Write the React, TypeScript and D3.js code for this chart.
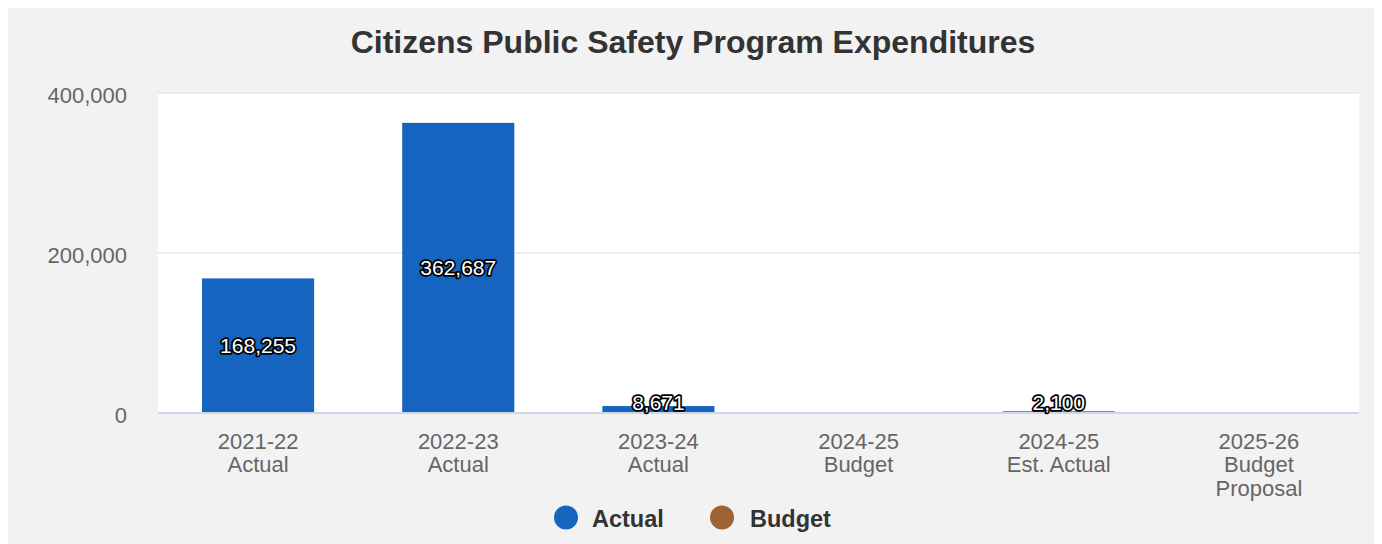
import React from "react";
import * as d3 from "d3";

const categories: string[][] = [
  ["2021-22", "Actual"],
  ["2022-23", "Actual"],
  ["2023-24", "Actual"],
  ["2024-25", "Budget"],
  ["2024-25", "Est. Actual"],
  ["2025-26", "Budget", "Proposal"],
];
const actualValues: (number | null)[] = [168255, 362687, 8671, null, 2100, null];
const budgetValues: (number | null)[] = [null, null, null, 0, null, 0];
const yTicks: number[] = [0, 200000, 400000];
const seriesNames = ["Actual", "Budget"];
const seriesColors = ["#1565c0", "#9c6434"];

const W = 1370;
const H = 536;
const plot = { left: 150, right: 1351, top: 85, bottom: 405 };
const FONT = "'Liberation Sans', Arial, Helvetica, sans-serif";

export default function App() {
  const x = d3
    .scaleBand<number>()
    .domain(categories.map((_, i) => i))
    .range([plot.left, plot.right])
    .paddingInner(0.44)
    .paddingOuter(0.22);
  const y = d3.scaleLinear().domain([0, 400000]).range([plot.bottom, plot.top]);
  const fmt = d3.format(",");

  const bars: { i: number; v: number; s: number }[] = [];
  [actualValues, budgetValues].forEach((arr, s) =>
    arr.forEach((v, i) => {
      if (v !== null) bars.push({ i, v, s });
    })
  );

  const legendItems = [
    { cx: 558, tx: 584 },
    { cx: 714, tx: 742 },
  ];

  return (
    <svg width={W} height={H} style={{ display: "block", fontFamily: FONT }}>
      <rect x={0} y={0} width={W} height={H} fill="#f2f2f2" />
      <text
        x={W / 2}
        y={45}
        textAnchor="middle"
        fontSize={32}
        fontWeight="bold"
        fill="#333333"
      >
        Citizens Public Safety Program Expenditures
      </text>
      <rect
        x={plot.left}
        y={plot.top}
        width={plot.right - plot.left}
        height={plot.bottom - plot.top}
        fill="#ffffff"
      />
      {yTicks.map((t) => (
        <g key={t}>
          {t !== 0 && (
            <line
              x1={plot.left}
              x2={plot.right}
              y1={y(t)}
              y2={y(t)}
              stroke="#e6e6e6"
              strokeWidth={1.5}
            />
          )}
          <text
            x={119}
            y={y(t) + 10}
            textAnchor="end"
            fontSize={22}
            fill="#666666"
          >
            {fmt(t)}
          </text>
        </g>
      ))}
      {bars.map((b, k) => (
        <rect
          key={k}
          x={x(b.i)!}
          y={y(b.v)}
          width={x.bandwidth()}
          height={Math.max(0, y(0) - y(b.v))}
          fill={seriesColors[b.s]}
        />
      ))}
      <line
        x1={plot.left}
        x2={plot.right}
        y1={y(0)}
        y2={y(0)}
        stroke="#ccd6eb"
        strokeWidth={2}
      />
      {bars
        .filter((b) => b.v > 0)
        .map((b, k) => {
          const mid = (y(b.v) + y(0)) / 2;
          const cy = Math.min(mid, y(0) - 11);
          return (
            <text
              key={k}
              x={x(b.i)! + x.bandwidth() / 2}
              y={cy + 7.5}
              textAnchor="middle"
              fontSize={21}
              fill="#ffffff"
              stroke="#000000"
              strokeWidth={3.5}
              strokeLinejoin="round"
              paintOrder="stroke"
            >
              {fmt(b.v)}
            </text>
          );
        })}
      {categories.map((lines, i) => (
        <text
          key={i}
          x={x(i)! + x.bandwidth() / 2}
          textAnchor="middle"
          fontSize={22}
          fill="#666666"
        >
          {lines.map((l, j) => (
            <tspan key={j} x={x(i)! + x.bandwidth() / 2} y={440.5 + j * 23.5}>
              {l}
            </tspan>
          ))}
        </text>
      ))}
      {seriesNames.map((n, s) => (
        <g key={n}>
          <circle cx={legendItems[s].cx} cy={509.5} r={12} fill={seriesColors[s]} />
          <text
            x={legendItems[s].tx}
            y={519}
            fontSize={23.5}
            fontWeight="bold"
            fill="#333333"
          >
            {n}
          </text>
        </g>
      ))}
    </svg>
  );
}
